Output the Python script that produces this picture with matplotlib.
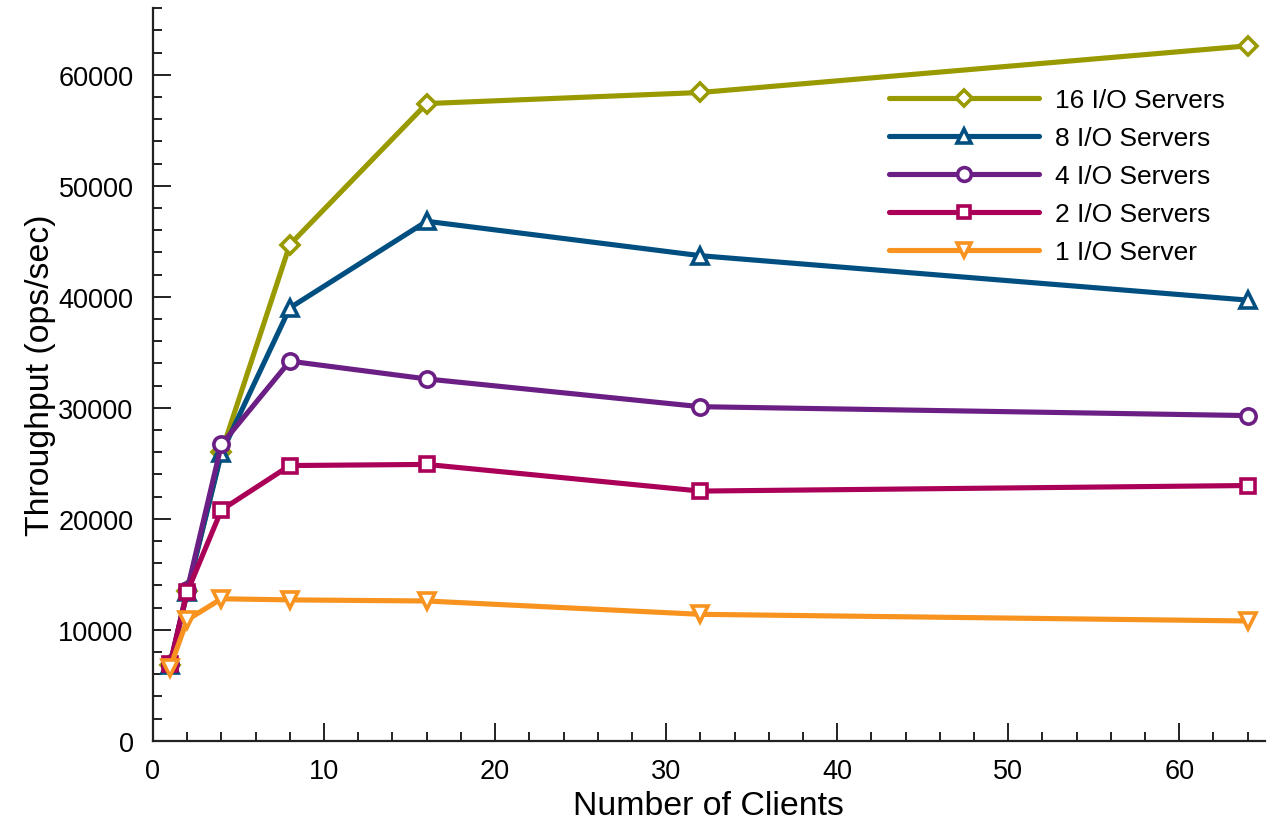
import matplotlib
matplotlib.use("Agg")
import matplotlib.pyplot as plt
from matplotlib.ticker import MultipleLocator

plt.rcParams['font.family'] = ['Liberation Sans', 'DejaVu Sans']

clients = [1, 2, 4, 8, 16, 32, 64]

servers16 = [6800, 13500, 26000, 44700, 57400, 58400, 62600]
servers8 = [6800, 13400, 25900, 39000, 46800, 43700, 39700]
servers4 = [6900, 13600, 26700, 34200, 32600, 30100, 29300]
servers2 = [6900, 13400, 20800, 24800, 24900, 22500, 23000]
servers1 = [6600, 10900, 12800, 12700, 12600, 11400, 10800]

labels = ["16 I/O Servers", "8 I/O Servers", "4 I/O Servers",
          "2 I/O Servers", "1 I/O Server"]
series = [servers16, servers8, servers4, servers2, servers1]
colors = ["#999900", "#004f80", "#6b1f84", "#aa0058", "#f7931e"]
markers = ["D", "^", "o", "s", "v"]
msizes = [9.5, 11, 11, 10, 11]

fig = plt.figure(figsize=(12.75, 8.28), dpi=100)
ax = fig.add_axes([0.12, 0.104, 0.872, 0.885])

for ys, lab, c, m, ms in zip(series, labels, colors, markers, msizes):
    ax.plot(clients, ys, color=c, lw=3.7, marker=m, ms=ms,
            mfc="white", mec=c, mew=2.6, label=lab,
            solid_capstyle="round", solid_joinstyle="round")

ax.set_xlim(0, 65)
ax.set_ylim(0, 66000)
ax.xaxis.set_major_locator(MultipleLocator(10))
ax.xaxis.set_minor_locator(MultipleLocator(2))
ax.yaxis.set_major_locator(MultipleLocator(10000))
ax.yaxis.set_minor_locator(MultipleLocator(2000))

for s in ["top", "right"]:
    ax.spines[s].set_visible(False)
for s in ["left", "bottom"]:
    ax.spines[s].set_linewidth(1.6)
    ax.spines[s].set_color("#222222")

ax.tick_params(which="major", direction="in", length=13, width=1.4,
               labelsize=19.5, colors="#222222", labelcolor="black")
ax.tick_params(axis="x", which="major", pad=12)
ax.tick_params(axis="y", which="major", pad=14)
ax.tick_params(which="minor", direction="in", length=6.5, width=1.4,
               colors="#222222")

ax.set_xlabel("Number of Clients", fontsize=24.4, labelpad=5)
ax.set_ylabel("Throughput (ops/sec)", fontsize=24.4, labelpad=2)

leg = ax.legend(loc="upper left", bbox_to_anchor=(0.697, 0.892),
                bbox_transform=fig.transFigure,
                frameon=False, fontsize=19, handlelength=5.7,
                handletextpad=0.6, labelspacing=0.53, borderpad=0,
                borderaxespad=0, markerscale=0.9)

fig.savefig("out.png", dpi=100)
